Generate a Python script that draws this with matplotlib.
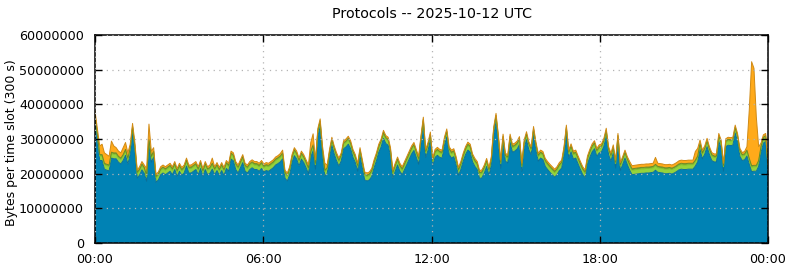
import matplotlib
matplotlib.use('Agg')
import matplotlib.pyplot as plt
import numpy as np

# 5 minute slots over one day, values in millions of bytes per slot
total_m = [
    38, 33, 28, 28.5, 26, 25.5, 25, 29.4, 28, 27.5, 26.5, 26,
    27.5, 29, 26, 28.5, 34.5, 29, 21, 22, 23.5, 22.5, 21.5, 34.3,
    26.5, 27.5, 19.8, 20.5, 22, 22.5, 22, 22.5, 23, 22, 23.5, 21.5,
    23, 21.8, 22.5, 24.5, 22.5, 22.5, 23, 23.5, 22, 23.8, 21.5, 23.5,
    22, 22.5, 24.5, 22, 23.2, 21.8, 23.2, 21.8, 23.8, 23, 26.5, 26,
    23.5, 22.5, 24, 25.5, 23, 22.5, 23.5, 24, 23.5, 23.5, 23, 23.8,
    22.8, 23.2, 23, 23.5, 24, 24.8, 25.2, 25.8, 26.8, 21, 20.2, 22,
    25.5, 27.5, 26.5, 24.5, 26.5, 25.5, 24, 22.5, 29, 31.5, 24, 33,
    35.8, 28, 23, 22.5, 27, 30.5, 28, 26, 24.5, 26, 29.5, 30,
    30.8, 29.5, 27, 25.5, 23, 27.5, 24, 20.5, 20.2, 20.5, 21.5, 24,
    26, 28.5, 30, 32.5, 31, 30.5, 27.5, 21, 23, 24.8, 23, 22,
    23.5, 25, 26.5, 28, 29, 27, 25, 31, 36.3, 27, 29, 32,
    24.5, 27, 27.6, 27, 26.8, 30.5, 32.9, 27.8, 26.8, 27.2, 24.9, 21.8,
    23.5, 25.9, 27.8, 29.1, 28.5, 25.7, 24.4, 23.5, 20.9, 21.1, 22.5, 24.4,
    21.8, 24.9, 33.4, 37.4, 31.2, 23.9, 31.4, 25.9, 25.4, 31.4, 28.5, 28.8,
    29.4, 30.7, 23, 29.7, 32.1, 29.2, 27.8, 33.6, 29.2, 25.9, 26.8, 26.4,
    24.4, 23.5, 22.7, 22, 21.3, 22, 23.2, 23.9, 27.8, 34, 26.8, 28.6,
    26.5, 26.8, 25.1, 23.5, 22, 21.1, 25.1, 27, 28.6, 29.5, 27.3, 28.3,
    28.6, 30.2, 33.1, 27.8, 25.9, 28.3, 23.9, 31.6, 23.2, 24.9, 26.8, 24.9,
    23.5, 22.3, 22.4, 22.5, 22.6, 22.7, 22.7, 22.8, 22.8, 22.9, 23, 24.7,
    23, 22.9, 22.8, 22.6, 22.6, 22.7, 22.5, 22.8, 23.2, 23.7, 23.9, 23.8,
    23.8, 23.9, 23.9, 23.9, 26.4, 27.3, 29.7, 26.8, 28, 30.2, 27.8, 26.1,
    25.7, 25.7, 31.6, 29.7, 23, 30.1, 30.5, 30.4, 30.5, 34, 31.6, 27.3,
    26.1, 26.4, 27.8, 38.4, 52.3, 50.4, 36.4, 27.8, 28.8, 31.2, 31.6, 23,
]

orange_m = [
    1.0, 1.5, 2.5, 3.0, 3.0, 2.8, 2.5, 3.2, 2.0, 1.5, 1.5, 1.5,
    2.0, 2.0, 1.5, 1.2, 0.8, 1.0, 0.6, 0.7, 0.7, 0.7, 2.0, 4.5,
    1.5, 1.0, 0.6, 0.6, 0.6, 0.6, 0.6, 0.6, 0.6, 0.6, 0.6, 0.6,
    0.6, 0.6, 0.6, 0.6, 0.6, 0.6, 0.6, 0.6, 0.6, 0.6, 0.6, 0.6,
    0.6, 0.7, 1.5, 0.6, 0.6, 0.6, 0.6, 0.6, 0.6, 0.6, 0.6, 0.6,
    0.6, 0.6, 0.6, 0.6, 0.6, 0.6, 0.6, 0.6, 0.6, 0.6, 0.6, 0.6,
    0.6, 0.6, 0.6, 0.6, 0.6, 0.6, 0.6, 0.7, 0.8, 0.6, 0.6, 0.6,
    0.6, 0.6, 0.6, 0.6, 0.6, 0.6, 0.6, 0.8, 2.5, 3.2, 1.0, 0.6,
    0.6, 1.0, 2.0, 0.8, 0.6, 0.6, 0.6, 0.6, 0.6, 0.6, 0.6, 0.6,
    0.6, 0.6, 0.6, 0.6, 0.6, 0.6, 0.6, 0.6, 0.6, 0.6, 0.6, 0.6,
    0.6, 0.6, 0.6, 0.6, 0.6, 0.6, 0.6, 0.6, 0.6, 0.6, 0.6, 0.6,
    0.6, 0.6, 0.6, 0.6, 0.6, 0.6, 0.6, 0.6, 0.6, 0.6, 0.6, 0.6,
    0.6, 0.6, 0.6, 0.6, 0.6, 0.6, 0.6, 0.6, 0.6, 0.6, 0.6, 0.6,
    0.6, 0.6, 0.6, 0.6, 0.6, 0.6, 0.6, 0.6, 0.6, 0.6, 0.6, 0.6,
    0.6, 0.6, 0.6, 0.6, 0.6, 0.6, 0.6, 0.6, 0.6, 0.6, 0.6, 0.6,
    0.6, 0.6, 0.6, 0.6, 0.6, 0.6, 0.6, 0.6, 0.6, 0.6, 0.6, 0.6,
    0.6, 0.6, 0.6, 0.6, 0.6, 0.6, 0.6, 0.6, 0.6, 0.6, 0.6, 0.6,
    0.6, 0.6, 0.6, 0.6, 0.6, 0.6, 0.6, 0.6, 0.6, 0.6, 0.6, 0.6,
    0.6, 0.6, 0.6, 0.6, 0.6, 0.6, 0.6, 0.6, 0.6, 0.6, 0.6, 0.6,
    0.8, 0.9, 0.9, 0.9, 0.9, 0.9, 0.9, 0.9, 0.9, 0.9, 0.9, 2.0,
    0.9, 0.9, 0.9, 0.9, 0.9, 0.9, 0.9, 0.9, 0.9, 0.9, 0.9, 0.9,
    0.9, 0.9, 0.9, 0.9, 2.5, 2.2, 1.0, 0.8, 0.7, 0.7, 0.6, 0.6,
    0.6, 0.6, 0.6, 0.6, 0.6, 0.6, 0.6, 0.6, 0.6, 0.6, 0.6, 0.6,
    0.6, 0.7, 1.0, 14, 30, 28, 14, 4, 1.0, 0.7, 0.6, 0.6,
]

# green layers are fairly steady, thin olive layer sits on top of lime
lime_m = [1.3] * 288
olive_m = [0.4] * 288

colors = ['#0082b4', '#94d33c', '#7a9a2a', '#ffaa1a']
edges = ['#0a6f99', '#7fbf2a', '#6d8a22', '#d08a14']

total = np.array(total_m) * 1e6
orange = np.array(orange_m) * 1e6
lime = np.array(lime_m) * 1e6
olive = np.array(olive_m) * 1e6
blue = total - orange - lime - olive

# slots spread over the whole day so the area reaches the right border
hours = np.linspace(0, 24, 288)

fig = plt.figure(figsize=(7.9, 2.67), dpi=100)
ax = fig.add_axes([0.1203, 0.0899, 0.8519, 0.779])

ax.stackplot(hours, blue, lime, olive, orange, colors=colors, linewidth=0)
# darker outline on top of each layer
cum = np.zeros(288)
for layer, ec in zip([blue, lime, olive, orange], edges):
    cum = cum + layer
    ax.plot(hours, cum, color=ec, lw=0.7)

ax.set_xlim(0, 24)
ax.set_ylim(0, 60e6)
ax.set_xticks([0, 6, 12, 18, 24])
ax.set_xticklabels(['00:00', '06:00', '12:00', '18:00', '00:00'])
yt = np.arange(0, 60e6 + 1, 10e6)
ax.set_yticks(yt)
ax.set_yticklabels(['%d' % v for v in yt])
ax.tick_params(direction='in', top=True, right=True, length=5, width=1.0,
               labelsize=9.2)
ax.tick_params(axis='x', pad=7)
ax.tick_params(axis='y', pad=8)
ax.grid(True, color='#b4b4b4', linestyle=(0, (1, 3.5)), linewidth=0.9)
ax.set_axisbelow(False)
for s in ax.spines.values():
    s.set_linewidth(1.1)

fig.text(12 / 790, 0.465, 'Bytes per time slot (300 s)', rotation=90,
         ha='center', va='center', fontsize=9)
ax.set_title('Protocols -- 2025-10-12 UTC', fontsize=10.3, pad=12)

fig.savefig('out.png', dpi=100)
